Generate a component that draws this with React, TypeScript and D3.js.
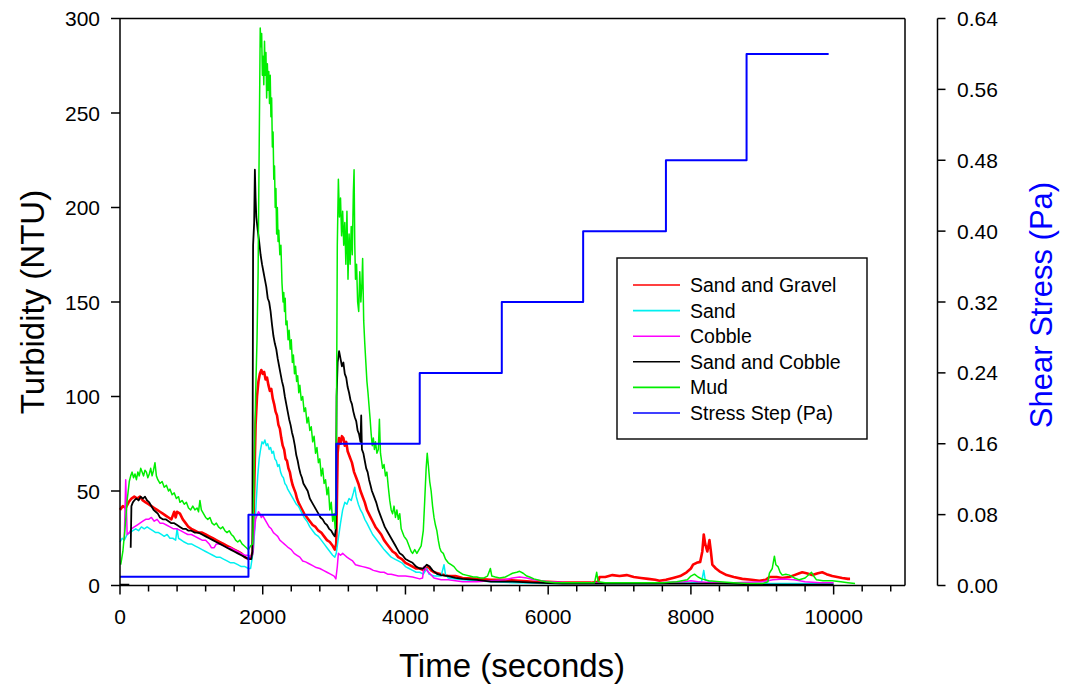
import React from "react";
import * as d3 from "d3";

type Pt = [number, number | null];

// Time axis ticks (seconds) and turbidity / stress ticks
const xTicks = [0, 2000, 4000, 6000, 8000, 10000];
const yTicks = [0, 50, 100, 150, 200, 250, 300];
const stressTicks = [0, 0.08, 0.16, 0.24, 0.32, 0.4, 0.48, 0.56, 0.64];

const seriesNames = ["Sand and Gravel", "Sand", "Cobble", "Sand and Cobble", "Mud", "Stress Step (Pa)"];
const seriesColors = ["#ff0000", "#00f0f0", "#ff00ff", "#000000", "#00ee00", "#0000ff"];

const sandGravel: Pt[] = [[0,40],[40,42],[80,41],[120,44],[160,46],[200,47],[240,46],[280,47],[320,45],[360,44],[400,43],[440,42],[480,41],[520,40],[560,39],[600,38],[640,37],[680,36],[720,35],[760,39],[780,36],[800,39],[840,38],[880,35],[920,33],[960,31],[1000,30],[1050,29],[1100,28],[1150,28],[1200,27],[1250,26],[1300,25],[1350,24],[1400,23],[1450,22],[1500,21],[1550,20],[1600,19],[1650,18],[1700,17],[1750,15],[1800,14],[1840,15],[1860,18],[1880,50],[1900,85],[1920,100],[1940,108],[1960,112],[1980,114],[2000,112],[2020,113],[2040,109],[2060,110],[2080,106],[2100,103],[2120,104],[2140,99],[2160,96],[2180,92],[2200,90],[2220,85],[2240,83],[2260,78],[2280,74],[2300,72],[2320,67],[2340,66],[2360,62],[2380,60],[2400,56],[2420,53],[2440,51],[2460,49],[2480,46],[2500,44],[2540,41],[2580,38],[2620,36],[2660,34],[2700,32],[2740,31],[2780,29],[2820,28],[2860,26],[2900,24],[2940,23],[2980,21],[3010,19],[3030,22],[3050,70],[3070,78],[3090,75],[3110,79],[3130,78],[3150,74],[3170,76],[3190,71],[3220,68],[3250,65],[3280,60],[3310,57],[3340,54],[3370,50],[3400,47],[3430,44],[3460,40],[3500,37],[3540,34],[3580,31],[3620,29],[3660,27],[3700,24],[3740,22],[3780,20],[3820,18],[3860,17],[3900,15],[3950,14],[4000,12],[4050,11],[4100,10],[4150,9],[4200,9],[4260,8],[4320,10],[4360,8],[4400,7],[4500,6],[4600,5],[4700,5],[4800,4],[5000,3.5],[5200,3],[5400,3],[5600,2.5],[5800,2],[6000,2],[6200,1.5],[6400,1.5],[6600,1.5],[6700,2],[6720,4.5],[6800,4.5],[6900,5.5],[7000,5],[7100,5.5],[7200,4.5],[7300,4],[7400,3.5],[7500,3],[7560,2.5],[7650,3],[7750,4],[7850,5],[7940,7],[8000,9],[8030,11],[8080,12],[8130,12.5],[8160,18],[8180,27],[8200,22],[8230,18],[8260,24],[8280,18],[8300,11],[8350,9],[8400,7.5],[8500,5.5],[8600,4.5],[8720,3.5],[8850,3],[8960,2.5],[9050,3],[9100,4.5],[9200,4.5],[9280,4],[9380,4.5],[9450,5.5],[9520,6.5],[9560,7],[9620,6.5],[9700,5.5],[9780,6.5],[9840,7],[9900,6],[9980,5],[10050,4.5],[10120,4],[10200,3.5],[10230,3.5]];

const sand: Pt[] = [[0,23],[30,25],[60,24],[100,27],[140,28],[180,29],[220,30],[260,29],[300,31],[340,30],[380,31],[420,30],[460,29],[500,28],[540,28],[580,27],[620,26],[660,27],[700,25],[740,25],[780,24],[800,30],[820,25],[860,24],[900,23],[950,22],[1000,22],[1050,21],[1100,20],[1150,19],[1200,18],[1250,17],[1300,16],[1350,15],[1400,15],[1450,14],[1500,13],[1550,12],[1600,12],[1650,11],[1700,10],[1750,10],[1800,9],[1830,9],[1850,14],[1870,20],[1890,30],[1910,45],[1930,58],[1950,67],[1970,72],[1990,76],[2010,75],[2030,77],[2050,74],[2070,75],[2090,72],[2110,73],[2130,70],[2150,71],[2170,67],[2190,66],[2210,63],[2230,64],[2250,60],[2270,58],[2290,57],[2310,54],[2330,53],[2350,51],[2380,49],[2410,47],[2440,45],[2470,43],[2500,42],[2540,39],[2580,36],[2620,34],[2660,31],[2700,29],[2740,27],[2780,26],[2820,24],[2860,22],[2900,20],[2940,18],[2980,16],[3010,15],[3030,17],[3060,25],[3090,33],[3120,40],[3150,44],[3180,43],[3210,46],[3240,45],[3270,49],[3290,52],[3310,47],[3340,43],[3370,40],[3400,38],[3430,35],[3460,33],[3500,30],[3540,27],[3580,25],[3620,23],[3660,21],[3700,19],[3750,17],[3800,15],[3850,14],[3900,13],[3950,12],[4000,10],[4050,9],[4100,8],[4150,7],[4200,7],[4250,6],[4300,9],[4330,6],[4400,5],[4500,5],[4540,11],[4560,6],[4600,4],[4700,3.5],[4800,3],[5000,2.5],[5200,2],[5500,1.5],[6000,1],[6500,1],[7000,1],[7500,1],[8000,1.5],[8150,2],[8180,8],[8200,3],[8300,1.5],[8500,1],[9000,1],[9500,1],[10000,1]];

const cobble: Pt[] = [[60,24],[80,56],[100,27],[130,28],[160,30],[200,31],[240,32],[280,33],[320,34],[360,35],[400,35],[440,36],[480,34],[520,35],[560,33],[600,33],[650,32],[700,31],[750,30],[800,30],[850,29],[900,28],[950,27],[1000,27],[1050,26],[1100,25],[1150,24],[1200,24],[1250,22],[1280,20],[1320,20],[1350,22],[1400,22],[1450,21],[1500,20],[1550,20],[1600,19],[1650,18],[1700,17],[1750,16],[1800,16],[1840,15],[1860,17],[1880,28],[1900,35],[1920,37],[1940,39],[1960,38],[1980,36],[2000,37],[2030,35],[2060,33],[2090,31],[2120,30],[2150,28],[2180,27],[2210,26],[2240,24],[2270,23],[2300,22],[2330,21],[2360,20],[2400,19],[2440,17],[2480,16],[2520,15],[2560,13],[2600,12.5],[2650,11.5],[2700,10.5],[2750,9.5],[2800,9],[2850,8],[2900,7],[2950,6],[3000,5],[3025,3.5],[3045,10],[3060,17],[3090,16],[3120,17],[3150,16],[3180,15],[3220,14],[3260,13],[3300,11],[3350,10.5],[3400,10],[3450,9.5],[3500,9],[3550,8],[3600,7.5],[3650,7],[3700,7],[3750,6],[3800,6],[3900,5],[4000,5],[4100,4.5],[4200,3.5],[4240,4],[4260,10],[4300,8],[4350,6],[4400,4],[4500,3],[4600,3],[4700,2.5],[4800,2],[5000,2],[5200,2.5],[5400,3],[5500,4],[5600,4.5],[5700,4],[5800,3],[6000,2],[6300,1.5],[6700,1.5],[7000,1.5],[7500,1.5],[7900,2],[8000,2.5],[8100,2],[8300,1.5],[8600,1.5],[9000,2],[9150,3],[9300,3.5],[9450,3],[9600,2],[9800,1.5],[10000,1.5]];

const sandCobble: Pt[] = [[0,0.5],[130,0.5],[140,null],[150,20],[160,42],[180,44],[200,45],[230,46],[260,45],[290,47],[320,46],[350,47],[380,45],[410,44],[440,42],[470,40],[500,39],[530,38],[560,36],[600,35],[640,35],[680,34],[720,33],[760,33],[800,32],[840,31],[880,30],[920,30],[960,29],[1000,29],[1050,28],[1100,28],[1150,27],[1200,26],[1250,25],[1300,24],[1350,23],[1400,22],[1450,21],[1500,20],[1550,19],[1600,18],[1650,17],[1700,16],[1750,15],[1800,14],[1840,14],[1855,18],[1865,180],[1880,192],[1890,220],[1900,205],[1910,195],[1930,188],[1950,182],[1970,175],[1990,170],[2010,166],[2030,162],[2050,158],[2070,152],[2090,150],[2110,145],[2130,138],[2150,132],[2170,128],[2190,125],[2210,120],[2230,116],[2250,112],[2270,108],[2290,105],[2310,100],[2330,96],[2350,92],[2370,88],[2390,85],[2410,81],[2430,78],[2450,74],[2470,69],[2490,66],[2510,62],[2530,59],[2550,57],[2570,54],[2600,52],[2630,50],[2660,46],[2690,44],[2720,42],[2750,40],[2780,38],[2810,36],[2840,35],[2870,33],[2900,32],[2930,30],[2960,29],[2990,27],[3010,26],[3025,30],[3035,100],[3050,118],[3070,124],[3090,120],[3110,116],[3130,118],[3150,112],[3170,110],[3190,105],[3210,102],[3230,98],[3250,96],[3270,92],[3290,89],[3310,87],[3330,82],[3350,80],[3370,76],[3380,90],[3390,72],[3410,70],[3430,66],[3450,62],[3470,60],[3490,56],[3510,53],[3530,50],[3560,47],[3590,44],[3620,40],[3650,37],[3680,34],[3710,31],[3740,29],[3770,27],[3800,25],[3830,23],[3860,21],[3890,19],[3920,17],[3960,16],[4000,14],[4050,13],[4100,12],[4150,10],[4200,9],[4250,9],[4300,11],[4340,10],[4380,8],[4450,6],[4500,5.5],[4600,5],[4700,4],[4800,3.5],[5000,3],[5200,2],[5500,2],[5800,1.5],[6200,1],[6800,1],[7500,1],[8000,1],[8500,1],[9000,0.5],[9500,0.5],[10000,0.5]];

const mud: Pt[] = [[10,11],[40,18],[70,30],[100,45],[130,55],[150,58],[170,60],[190,57],[210,59],[230,56],[250,60],[270,58],[290,62],[310,60],[330,58],[350,61],[370,60],[390,57],[410,59],[430,62],[450,58],[470,61],[490,65],[510,58],[530,56],[560,54],[590,55],[620,52],[650,53],[680,50],[700,51],[730,48],[760,49],[790,46],[820,47],[840,44],[870,45],[900,43],[930,44],[960,41],[990,40],[1020,42],[1050,40],[1080,41],[1100,39],[1120,45],[1140,40],[1170,38],[1200,36],[1230,35],[1260,36],[1290,33],[1320,32],[1350,33],[1380,31],[1410,30],[1440,31],[1470,29],[1500,28],[1530,29],[1560,27],[1590,26],[1620,24],[1650,23],[1680,24],[1710,22],[1740,21],[1770,20],[1800,19],[1830,21],[1860,22],[1880,60],[1900,100],[1920,130],[1935,165],[1950,230],[1965,295],[1975,285],[1985,292],[1995,270],[2005,280],[2015,265],[2025,288],[2035,270],[2045,282],[2055,258],[2065,276],[2075,262],[2085,272],[2095,255],[2105,270],[2115,248],[2125,258],[2135,232],[2145,240],[2155,215],[2165,222],[2175,200],[2185,210],[2195,186],[2205,200],[2215,182],[2225,188],[2240,175],[2255,180],[2270,160],[2285,150],[2295,155],[2305,145],[2315,152],[2325,138],[2340,140],[2355,130],[2370,135],[2385,125],[2400,130],[2415,118],[2430,122],[2445,112],[2460,116],[2475,108],[2490,111],[2505,102],[2520,106],[2540,98],[2560,100],[2580,92],[2600,94],[2620,86],[2640,89],[2660,82],[2680,84],[2700,76],[2720,79],[2740,70],[2760,73],[2780,65],[2800,67],[2820,58],[2840,62],[2860,54],[2880,56],[2900,48],[2920,52],[2940,40],[2960,44],[2980,34],[3000,38],[3015,30],[3030,60],[3045,180],[3060,215],[3075,195],[3090,205],[3105,185],[3120,198],[3135,180],[3150,192],[3165,170],[3180,198],[3195,162],[3210,186],[3225,170],[3240,190],[3255,175],[3270,208],[3280,220],[3290,180],[3300,162],[3315,170],[3330,150],[3345,145],[3360,166],[3375,150],[3390,160],[3400,173],[3415,140],[3430,128],[3445,118],[3460,108],[3475,102],[3490,95],[3505,88],[3520,80],[3535,74],[3550,78],[3565,72],[3580,76],[3600,70],[3620,72],[3635,88],[3650,70],[3665,66],[3680,62],[3700,64],[3720,58],[3740,60],[3760,52],[3780,45],[3800,40],[3820,38],[3840,42],[3860,36],[3880,40],[3900,35],[3920,38],[3940,30],[3960,28],[3980,26],[4000,25],[4020,24],[4040,22],[4060,20],[4080,18],[4100,17],[4130,19],[4160,17],[4190,19],[4220,21],[4250,29],[4270,45],[4290,62],[4305,70],[4320,64],[4340,55],[4360,50],[4380,42],[4400,36],[4420,32],[4440,29],[4460,24],[4480,20],[4500,18],[4530,17],[4560,14],[4600,12],[4640,11],[4680,10],[4720,8],[4760,7],[4800,6],[4850,5.5],[4900,5],[4950,4.5],[5000,4.5],[5050,4],[5100,4],[5150,5],[5190,9],[5210,5],[5260,4.5],[5320,4],[5400,4.5],[5450,5.5],[5500,6.5],[5560,7],[5600,7.5],[5650,6.5],[5700,5],[5740,4.5],[5800,3.5],[5900,2.5],[5970,2],[6100,1.5],[6300,1.5],[6500,1.5],[6650,1.5],[6680,7],[6700,2],[6800,1.5],[7000,1.5],[7300,1.5],[7600,1.5],[7800,2],[7950,3],[8000,5],[8050,6],[8100,4.5],[8150,3.5],[8250,2.5],[8400,2],[8600,1.5],[8800,1],[9000,1],[9080,2],[9100,6.5],[9140,9],[9170,15.5],[9190,11],[9220,10],[9250,7],[9280,5.5],[9330,6],[9380,5.5],[9450,4],[9520,3],[9600,4],[9690,7],[9720,5],[9760,3],[9850,2.5],[9980,2.5],[10100,2],[10200,1.5],[10300,1]];

// Stress step schedule
const stepStart = [0, 1800, 3030, 4200, 5350, 6490, 7650, 8780, 9930];
const stepStress = [0.01, 0.08, 0.16, 0.24, 0.32, 0.40, 0.48, 0.60, 0.60];

const turbiditySeries = [sandGravel, sand, cobble, sandCobble, mud];
const strokeWidths = [2.6, 1.5, 1.5, 1.8, 1.5];

export default function App() {
  const left = 120, right = 905, top = 18.5, bottom = 585.5, axis2 = 937.5;
  const x = d3.scaleLinear().domain([0, 11000]).range([left, right]);
  const y = d3.scaleLinear().domain([0, 300]).range([bottom, top]);
  const y2 = d3.scaleLinear().domain([0, 0.64]).range([bottom, top]);
  const minorX = d3.range(0, 11000 + 1, 400).filter((v) => v % 2000 !== 0);

  const line = d3
    .line<Pt>()
    .defined((d) => d[1] != null)
    .x((d) => x(d[0]))
    .y((d) => y(d[1] as number));

  const stepPts: [number, number][] = stepStart.map((t, i) => [t, stepStress[i]]);
  const stepLine = d3
    .line<[number, number]>()
    .curve(d3.curveStepAfter)
    .x((d) => x(d[0]))
    .y((d) => y2(d[1]));

  const font = "Arial, 'Liberation Sans', Helvetica, sans-serif";
  const legX = 617, legY = 258, legW = 250, legH = 181;

  return (
    <svg width={1066} height={688} style={{ position: "absolute", left: 0, top: 0, background: "#fff" }} fontFamily={font}>
      <rect x={0} y={0} width={1066} height={688} fill="#fff" />
      {/* data */}
      <g fill="none" strokeLinejoin="round">
        {turbiditySeries.map((s, i) => (
          <path key={i} d={line(s) || ""} stroke={seriesColors[i]} strokeWidth={strokeWidths[i]} />
        ))}
        <path d={stepLine(stepPts) || ""} stroke={seriesColors[5]} strokeWidth={2} />
      </g>
      {/* frame */}
      <g stroke="#000" strokeWidth={1.5} fill="none">
        <line x1={left} y1={top} x2={right} y2={top} />
        <line x1={right} y1={top} x2={right} y2={bottom} />
        <line x1={left} y1={top} x2={left} y2={bottom} />
        <line x1={left} y1={bottom} x2={right} y2={bottom} />
        <line x1={axis2} y1={top} x2={axis2} y2={bottom} />
        {xTicks.map((t) => (
          <line key={"xt" + t} x1={x(t)} x2={x(t)} y1={bottom} y2={bottom + 9} />
        ))}
        {minorX.map((t) => (
          <line key={"xm" + t} x1={x(t)} x2={x(t)} y1={bottom} y2={bottom + 6} />
        ))}
        {yTicks.map((t) => (
          <line key={"yt" + t} x1={left - 9} x2={left} y1={y(t)} y2={y(t)} />
        ))}
        {stressTicks.map((t) => (
          <line key={"st" + t} x1={axis2} x2={axis2 + 8} y1={y2(t)} y2={y2(t)} />
        ))}
      </g>
      {/* tick labels */}
      <g fontSize={21} fill="#000">
        {xTicks.map((t) => (
          <text key={"xl" + t} x={x(t)} y={624} textAnchor="middle">{t}</text>
        ))}
        {yTicks.map((t) => (
          <text key={"yl" + t} x={100} y={y(t)} dy="0.36em" textAnchor="end">{t}</text>
        ))}
        {stressTicks.map((t) => (
          <text key={"sl" + t} x={957} y={y2(t)} dy="0.36em" textAnchor="start">{t.toFixed(2)}</text>
        ))}
      </g>
      {/* axis titles */}
      <text x={512} y={677} fontSize={33} textAnchor="middle" fill="#000">Time (seconds)</text>
      <text transform={`translate(44,${(top + bottom) / 2}) rotate(-90)`} fontSize={33} textAnchor="middle" fill="#000">Turbidity (NTU)</text>
      <text transform={`translate(1052,${(top + bottom) / 2 + 3}) rotate(-90)`} fontSize={31} textAnchor="middle" fill="#0000ff">Shear Stress (Pa)</text>
      {/* legend */}
      <rect x={legX} y={legY} width={legW} height={legH} fill="#fff" stroke="#000" strokeWidth={1.4} />
      {seriesNames.map((n, i) => (
        <g key={n}>
          <line x1={633} x2={680} y1={285 + i * 25.6} y2={285 + i * 25.6} stroke={seriesColors[i]} strokeWidth={1.6} />
          <text x={690} y={285 + i * 25.6} dy="0.36em" fontSize={19.5} fill="#000">{n}</text>
        </g>
      ))}
    </svg>
  );
}
